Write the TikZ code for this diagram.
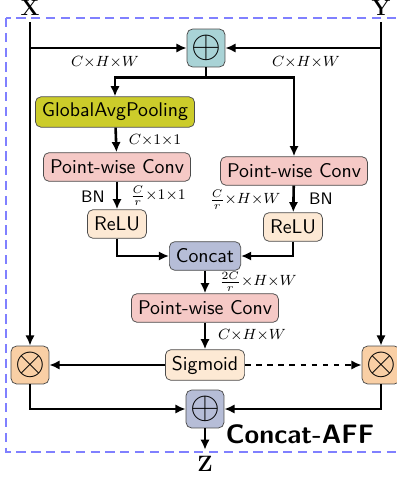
\documentclass[tikz,border=0pt]{standalone}
\usepackage{amsmath}
\usepackage{amssymb}
\usepackage{tikz}
\usetikzlibrary{arrows.meta}

\definecolor{sumteal}{RGB}{169,211,214}
\definecolor{gapolive}{RGB}{204,204,42}
\definecolor{convpink}{RGB}{245,201,198}
\definecolor{actpeach}{RGB}{253,233,212}
\definecolor{catgray}{RGB}{182,189,215}
\definecolor{muloran}{RGB}{249,207,165}

\begin{document}
\begin{tikzpicture}[x=0.54pt, y=-0.54pt, >={Latex[length=5.5pt,width=5pt]},
  blk/.style={draw=black!70, rounded corners=3pt, font=\sffamily\fontsize{10.7}{12}\selectfont, minimum height=15.5pt, inner xsep=3.5pt},
  opbox/.style={draw=black!70, rounded corners=3pt, minimum size=20.5pt, inner sep=0pt, font=\huge},
  lbl/.style={font=\footnotesize},
  flow/.style={line width=1.4pt, ->}]
  \useasboundingbox (0,0) rectangle (396,478);
  \draw[blue!50, dashed, line width=0.8pt, dash pattern=on 5pt off 3pt] (6,18) rectangle (404,452);

  \node (X) at (30,8) {\large\bfseries X};
  \node (Y) at (381,8) {\large\bfseries Y};
  \node (Z) at (205,464) {\large\bfseries Z};

  \node[opbox, fill=sumteal] (sumtop) at (206,48) {$\oplus$};
  \node[blk, fill=gapolive] (gap) at (115,112) {GlobalAvgPooling};
  \node[blk, fill=convpink] (pwcL) at (117,167) {Point-wise Conv};
  \node[blk, fill=convpink] (pwcR) at (294,171) {Point-wise Conv};
  \node[blk, fill=actpeach] (reluL) at (117,224) {ReLU};
  \node[blk, fill=actpeach] (reluR) at (293,227) {ReLU};
  \node[blk, fill=catgray] (cat) at (205,256) {Concat};
  \node[blk, fill=convpink] (pwcC) at (205,308) {Point-wise Conv};
  \node[blk, fill=actpeach] (sig) at (205,365) {Sigmoid};
  \node[opbox, fill=muloran] (mulL) at (30,365) {$\otimes$};
  \node[opbox, fill=muloran] (mulR) at (381,365) {$\otimes$};
  \node[opbox, fill=catgray] (sumbot) at (205,409) {$\oplus$};

  \node[lbl] (dimA) at (105,62) {$C{\times}H{\times}W$};
  \node[lbl] (dimB) at (306,62) {$C{\times}H{\times}W$};
  \node[lbl] (dimC) at (155,140) {$C{\times}1{\times}1$};
  \node[lbl] (dimD) at (158,196) {$\frac{C}{r}{\times}1{\times}1$};
  \node[lbl] (dimE) at (245,200) {$\frac{C}{r}{\times}H{\times}W$};
  \node[lbl] (dimF) at (258,282) {$\frac{2C}{r}{\times}H{\times}W$};
  \node[lbl] (dimG) at (252,335) {$C{\times}H{\times}W$};
  \node[font=\sffamily\small] (bnL) at (93,197) {BN};
  \node[font=\sffamily\small] (bnR) at (321,199) {BN};
  \node[font=\sffamily\bfseries\Large] (title) at (300,434) {Concat-AFF};

  \draw[flow] (X) -- (mulL);
  \draw[flow] (Y) -- (mulR);
  \draw[flow] (X |- sumtop) -- (sumtop);
  \draw[flow] (Y |- sumtop) -- (sumtop);

  \draw[flow] (sumtop.south) -- ++(0,10) -| (gap.north);
  \draw[flow] (sumtop.south) -- ++(0,10) -| (pwcR.north);
  \draw[flow] (gap) -- (pwcL);
  \draw[flow] (pwcL) -- (reluL);
  \draw[flow] (pwcR) -- (reluR);
  \draw[flow] (reluL) |- (cat);
  \draw[flow] (reluR) |- (cat);
  \draw[flow] (cat) -- (pwcC);
  \draw[flow] (pwcC) -- (sig);

  \draw[flow] (sig) -- (mulL);
  \draw[flow, dashed] (sig) -- (mulR);
  \draw[flow] (mulL) |- (sumbot);
  \draw[flow] (mulR) |- (sumbot);
  \draw[flow] (sumbot) -- (Z);
\end{tikzpicture}
\end{document}
